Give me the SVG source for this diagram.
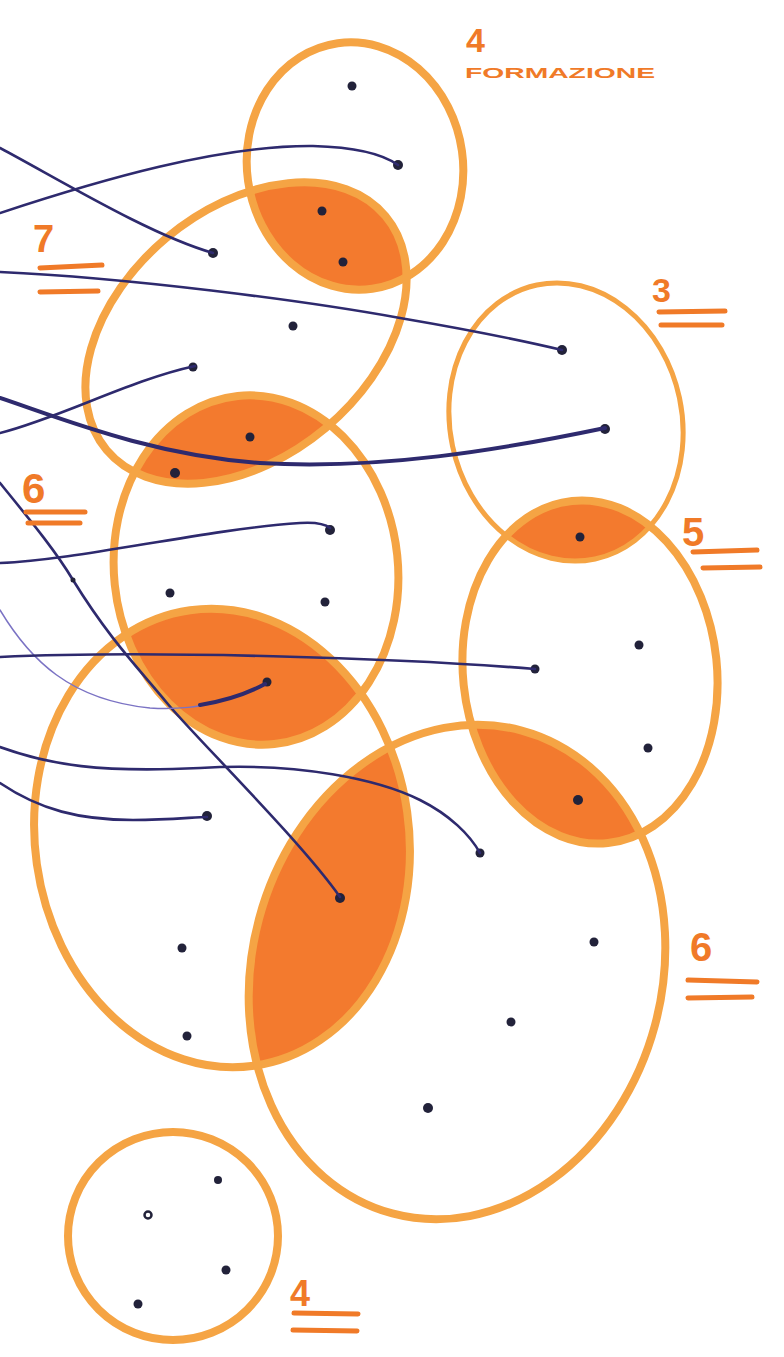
<svg xmlns="http://www.w3.org/2000/svg" width="784" height="1357" viewBox="0 0 784 1357">
<style>
.ring{fill:none;stroke:#f5a444;stroke-width:8;stroke-linecap:round}
.shade{fill:#f37a2e}
.wire{fill:none;stroke:#2e2a6e;stroke-width:2.6;stroke-linecap:round}
.thick{stroke-width:4}
.thin{stroke:#7b73c4;stroke-width:1.5}
.dot{fill:#22223a}
.lbl{font-family:"Liberation Sans",Arial,sans-serif;font-weight:bold;fill:#f07a28}
.bar{stroke:#f07a28;stroke-width:5;stroke-linecap:round;fill:none}
</style>
<defs>
<ellipse id="eTop" cx="355" cy="166" rx="108" ry="124" transform="rotate(-8 355 166)"/>
<ellipse id="e7" cx="246" cy="333" rx="182" ry="124" transform="rotate(-40 246 333)"/>
<ellipse id="e6a" cx="256" cy="570" rx="142" ry="175" transform="rotate(-6 256 570)"/>
<ellipse id="e3" cx="566" cy="422" rx="116" ry="140" transform="rotate(-12 566 422)"/>
<ellipse id="e5" cx="590" cy="672" rx="127" ry="172" transform="rotate(-6 590 672)"/>
<ellipse id="eLL" cx="222" cy="838" rx="187" ry="230" transform="rotate(-8 222 838)"/>
<ellipse id="eR" cx="457" cy="972" rx="205" ry="250" transform="rotate(15 457 972)"/>
<clipPath id="cTop"><use href="#eTop"/></clipPath>
<clipPath id="c6a"><use href="#e6a"/></clipPath>
<clipPath id="c3"><use href="#e3"/></clipPath>
<clipPath id="cLL"><use href="#eLL"/></clipPath>
<clipPath id="c5"><use href="#e5"/></clipPath>
</defs>
<rect width="784" height="1357" fill="#ffffff"/>
<g id="overlaps">
<use href="#e7" class="shade" clip-path="url(#cTop)"/>
<use href="#e7" class="shade" clip-path="url(#c6a)"/>
<use href="#e5" class="shade" clip-path="url(#c3)"/>
<use href="#e6a" class="shade" clip-path="url(#cLL)"/>
<use href="#eR" class="shade" clip-path="url(#c5)"/>
<use href="#eR" class="shade" clip-path="url(#cLL)"/>
</g>
<g id="set-top"><use href="#eTop" class="ring"/><circle class="dot" cx="352" cy="86" r="4.5"/><circle class="dot" cx="398" cy="165" r="5"/><circle class="dot" cx="322" cy="211" r="4.5"/><circle class="dot" cx="343" cy="262" r="4.5"/></g>
<g id="set-7"><use href="#e7" class="ring"/><circle class="dot" cx="213" cy="253" r="5"/><circle class="dot" cx="293" cy="326" r="4.5"/><circle class="dot" cx="193" cy="367" r="4.5"/><circle class="dot" cx="250" cy="437" r="4.5"/></g>
<g id="set-6a"><use href="#e6a" class="ring"/><circle class="dot" cx="175" cy="473" r="5"/><circle class="dot" cx="330" cy="530" r="5"/><circle class="dot" cx="170" cy="593" r="4.5"/><circle class="dot" cx="325" cy="602" r="4.5"/><circle class="dot" cx="267" cy="682" r="4.5"/></g>
<g id="set-3"><use href="#e3" class="ring" style="stroke-width:5"/><circle class="dot" cx="562" cy="350" r="5"/><circle class="dot" cx="605" cy="429" r="5"/></g>
<g id="set-5"><use href="#e5" class="ring"/><circle class="dot" cx="580" cy="537" r="4.5"/><circle class="dot" cx="639" cy="645" r="4.5"/><circle class="dot" cx="535" cy="669" r="4.5"/><circle class="dot" cx="648" cy="748" r="4.5"/><circle class="dot" cx="578" cy="800" r="5"/></g>
<g id="set-LL"><use href="#eLL" class="ring"/><circle class="dot" cx="207" cy="816" r="5"/><circle class="dot" cx="182" cy="948" r="4.5"/><circle class="dot" cx="187" cy="1036" r="4.5"/><circle class="dot" cx="340" cy="898" r="5"/></g>
<g id="set-R"><use href="#eR" class="ring"/><circle class="dot" cx="480" cy="853" r="4.5"/><circle class="dot" cx="594" cy="942" r="4.5"/><circle class="dot" cx="511" cy="1022" r="4.5"/><circle class="dot" cx="428" cy="1108" r="5"/></g>
<g id="set-4"><ellipse class="ring" cx="173" cy="1236" rx="105" ry="104"/><circle class="dot" cx="218" cy="1180" r="4"/><circle cx="148" cy="1215" r="3.5" fill="none" stroke="#22223a" stroke-width="2.5"/><circle class="dot" cx="226" cy="1270" r="4.5"/><circle class="dot" cx="138" cy="1304" r="4.5"/></g>
<g id="connectors">
<path class="wire" d="M0,148 C60,180 150,235 213,253"/>
<path class="wire" d="M0,213 C100,180 220,145 313,146 C350,147 380,152 398,165"/>
<path class="wire" d="M0,272 C130,278 300,300 400,318 C470,330 520,340 562,350"/>
<path class="wire" d="M0,433 C60,418 130,380 195,366"/>
<path class="wire thick" d="M0,398 C60,418 150,455 260,463 C380,470 500,450 605,428"/>
<path class="wire" d="M0,483 C30,520 55,550 73,580 C110,640 140,670 167,703 S300,840 340,897"/>
<circle class="dot" cx="73" cy="580" r="2.5"/>
<path class="wire" d="M0,563 C80,560 200,530 300,523 C315,522 325,524 330,528"/>
<path class="wire thin" d="M0,610 C30,660 70,700 150,708 C180,710 200,706 215,703"/>
<path class="wire thick" d="M200,705 C230,700 250,692 265,684"/>
<path class="wire" d="M0,657 C150,650 400,658 535,669"/>
<path class="wire" d="M0,747 C50,765 100,773 200,768 C300,762 380,780 420,800 C450,815 470,835 480,853"/>
<path class="wire" d="M0,783 C40,810 80,820 133,820 C170,820 195,817 207,817"/>
</g>
<g id="labels">
<text class="lbl" x="466" y="52" font-size="34">4</text>
<text class="lbl" x="465" y="78" font-size="15" textLength="190" lengthAdjust="spacingAndGlyphs">FORMAZIONE</text>
<text class="lbl" x="33" y="252" font-size="38">7</text>
<path class="bar" d="M40,268 L102,265 M40,292 L98,291"/>
<text class="lbl" x="652" y="302" font-size="34">3</text>
<path class="bar" d="M659,312 L725,311 M661,325 L722,325"/>
<text class="lbl" x="22" y="503" font-size="42">6</text>
<path class="bar" d="M26,512 L85,512 M28,523 L80,523"/>
<text class="lbl" x="682" y="546" font-size="40">5</text>
<path class="bar" d="M693,552 L757,550 M703,568 L760,567"/>
<text class="lbl" x="690" y="961" font-size="40">6</text>
<path class="bar" d="M688,980 L757,982 M688,998 L752,997"/>
<text class="lbl" x="290" y="1306" font-size="36">4</text>
<path class="bar" d="M294,1313 L358,1314 M293,1330 L357,1331"/>
</g>
</svg>
